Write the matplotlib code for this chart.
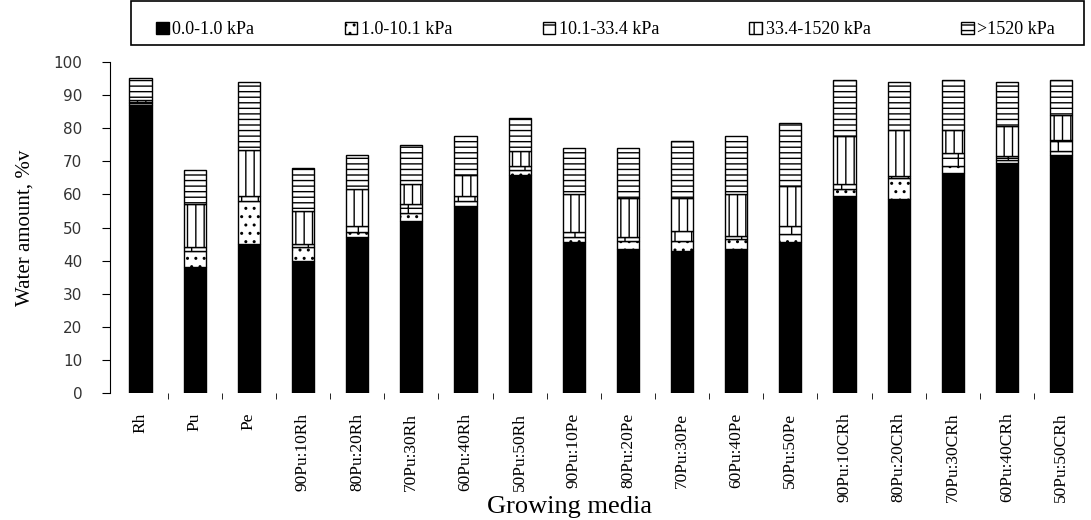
import numpy as np
import matplotlib
matplotlib.use("Agg")
import matplotlib.pyplot as plt
from matplotlib.patches import Rectangle

# growing media (x categories)
media = ["Rh", "Pu", "Pe",
         "90Pu:10Rh", "80Pu:20Rh", "70Pu:30Rh", "60Pu:40Rh", "50Pu:50Rh",
         "90Pu:10Pe", "80Pu:20Pe", "70Pu:30Pe", "60Pu:40Pe", "50Pu:50Pe",
         "90Pu:10CRh", "80Pu:20CRh", "70Pu:30CRh", "60Pu:40CRh", "50Pu:50CRh"]

# water amount (% v) held in each tension range
s_0_1 = [87, 38, 45, 40, 47, 52, 56.5, 66, 45.5, 43.5, 43, 43.5, 45.5, 59.5, 58.5, 66.5, 69.5, 72]
s_1_10 = [0.5, 5, 13, 4, 1.5, 2.5, 1.5, 1.5, 1.5, 2.5, 3, 3, 2.5, 2, 6.5, 2, 1, 1]
s_10_33 = [0.5, 1, 1.5, 1, 2, 2.5, 1.5, 1, 1.5, 1, 3, 1, 2.5, 1.5, 0.5, 4, 1, 3.5]
s_33_1520 = [0.5, 13, 14, 10, 11, 6, 6.5, 4.5, 11.5, 12, 10, 12.5, 12, 14.5, 14, 7, 9, 7.5]
s_1520 = [6.5, 10.5, 20.5, 13, 10.5, 12, 11.5, 10, 14, 15, 17, 17.5, 19, 17, 14.5, 15, 13.5, 10.5]

labels = ["0.0-1.0 kPa", "1.0-10.1 kPa", "10.1-33.4 kPa", "33.4-1520 kPa", ">1520 kPa"]
series = [s_0_1, s_1_10, s_10_33, s_33_1520, s_1520]
hatches = [None, "..", "+", "||", "---"]

plt.rcParams["hatch.linewidth"] = 1.0
fig = plt.figure(figsize=(10.91, 5.2), dpi=100)
ax = fig.add_axes([0.101, 0.244, 0.894, 0.637])

x = np.arange(len(media))
bottom = np.zeros(len(media))
handles = []
for vals, lab, h in zip(series, labels, hatches):
    vals = np.array(vals)
    if h is None:
        b = ax.bar(x, vals, 0.41, bottom=bottom, color="black", edgecolor="black", lw=1, label=lab)
    else:
        b = ax.bar(x, vals, 0.41, bottom=bottom, color="white", edgecolor="black", lw=1,
                   hatch=h, label=lab)
    handles.append(b)
    bottom += vals

ax.set_xlim(-0.56, 17.45)
ax.set_ylim(0, 100)
ax.set_yticks(np.arange(0, 101, 10))
ax.tick_params(axis="y", labelsize=11, labelcolor="#333333", length=6, direction="out", pad=14)
ax.set_xticks(x)
ax.set_xticklabels(media, rotation=90, fontsize=12.5, family="Liberation Serif")
ax.tick_params(axis="x", which="major", length=0, pad=14)
ax.set_xticks(np.arange(0.5, 17, 1), minor=True)
ax.tick_params(axis="x", which="minor", length=4, direction="out")
for s in ["top", "right", "bottom"]:
    ax.spines[s].set_visible(False)

ax.set_ylabel("Water amount, %v", family="Liberation Serif", fontsize=15, labelpad=14)
fig.text(0.522, 0.003, "Growing media", family="Liberation Serif", fontsize=19,
         ha="center", va="bottom")

# legend box at the top
fig.patches.append(Rectangle((0.120, 0.9135), 0.874, 0.085, transform=fig.transFigure,
                             fill=False, edgecolor="black", lw=1.2))
fig.legend(handles=handles, labels=labels, loc="center", bbox_to_anchor=(0.555, 0.943),
           ncol=5, frameon=False, handlelength=0.7, handleheight=0.7, handletextpad=0.2,
           columnspacing=5.0, prop={"family": "Liberation Serif", "size": 13})

fig.savefig("out.png", dpi=100)
